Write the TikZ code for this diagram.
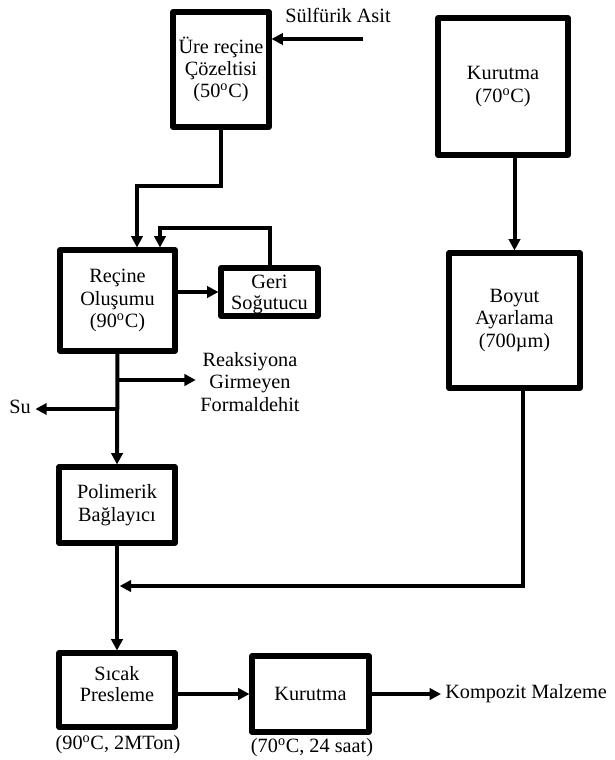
\documentclass[tikz,border=0pt]{standalone}
\usepackage{fontspec}
\setmainfont{Liberation Serif}
\usetikzlibrary{arrows.meta,positioning,calc}

% two lines, first baseline raised by #1 from the node centre
\newcommand{\twolines}[3]{\raisebox{#1}[0pt][0pt]{\renewcommand{\arraystretch}{0.94}\begin{tabular}[t]{@{}c@{}}#2\\#3\end{tabular}}}

\tikzset{
  stepbox/.style={draw,rectangle,line width=3.8pt,line join=round,align=center,inner sep=2pt},
  flow/.style={-{Triangle[length=8.5pt,width=8.5pt]},line width=3pt},
  note/.style={align=center}
}

\begin{document}
\begin{tikzpicture}[x=0.75pt,y=-0.75pt,font=\fontsize{15.2}{16.8}\selectfont]
\useasboundingbox (0,0) rectangle (614,760);

% left chain
\node[stepbox,minimum width=72pt,minimum height=86.25pt] (ure) at (221,69.5) {Üre reçine\\Çözeltisi\\(50\textsuperscript{o}C)};
\node[stepbox,minimum width=86.25pt,minimum height=75.75pt] (recine) at (117.5,300.5) {Reçine\\Oluşumu\\(90\textsuperscript{o}C)};
\node[stepbox,minimum width=72.75pt,minimum height=36pt,inner sep=0pt] (geri) at (269.5,292) {\twolines{2.5pt}{Geri}{Soğutucu}};
\node[stepbox,minimum width=87pt,minimum height=57pt] (polimer) at (117,505) {Polimerik\\Bağlayıcı};
\node[stepbox,minimum width=87pt,minimum height=55.5pt] (sicak) at (117,690) {\twolines{7.5pt}{Sıcak}{Presleme}};
\node[stepbox,minimum width=87.75pt,minimum height=57pt] (kurutma2) at (310.5,694) {Kurutma};

% right chain
\node[stepbox,minimum width=97.5pt,minimum height=102.75pt] (kurutma1) at (503,86.5) {Kurutma\\(70\textsuperscript{o}C)};
\node[stepbox,minimum width=98.25pt,minimum height=101.25pt] (boyut) at (514.5,320.5) {Boyut\\Ayarlama\\(700µm)};

% texts
\node[note] (asit) at (338,15) {Sülfürik Asit};
\node[note] (formal) at (250,382) {Reaksiyona\\Girmeyen\\Formaldehit};
\node[note] (su) at (20,407) {Su};
\node[note] (kosul1) at (118,745) {(90\textsuperscript{o}C, 2MTon)};
\node[note] (kosul2) at (312,748) {(70\textsuperscript{o}C, 24 saat)};
\node[note,anchor=west,inner xsep=3pt] (kompozit) at (441,694) {Kompozit Malzeme};

\coordinate (asitin) at (363,39);
\coordinate (ureturn) at (137,186);
\coordinate (geriback) at (160,228);
\coordinate (formalout) at (117,380);
\coordinate (suout) at (117,409);
\coordinate (boyutturn) at (523,586);

\draw[flow] (asitin) -- (asitin -| ure.east);
\draw[flow] (ure.south) |- (ureturn) -- (ureturn |- recine.north);
\draw[flow] (recine.east |- geri.west) -- (geri.west);
\draw[flow] (geri.north) |- (geriback) -- (geriback |- recine.north);
\draw[flow] (recine.south) -- (polimer.north);
\draw[flow] (formalout) -- (formalout -| formal.west);
\draw[flow] (suout) -- (suout -| su.east);
\draw[flow] (polimer.south) -- (sicak.north);
\draw[flow] (kurutma1.south -| boyut.north) -- (boyut.north);
\draw[flow] (boyutturn |- boyut.south) -- (boyutturn) -- ([xshift=2pt]boyutturn -| sicak.north);
\draw[flow] (sicak.east |- kurutma2.west) -- (kurutma2.west);
\draw[flow] (kurutma2.east) -- (kompozit.west);
\end{tikzpicture}
\end{document}
